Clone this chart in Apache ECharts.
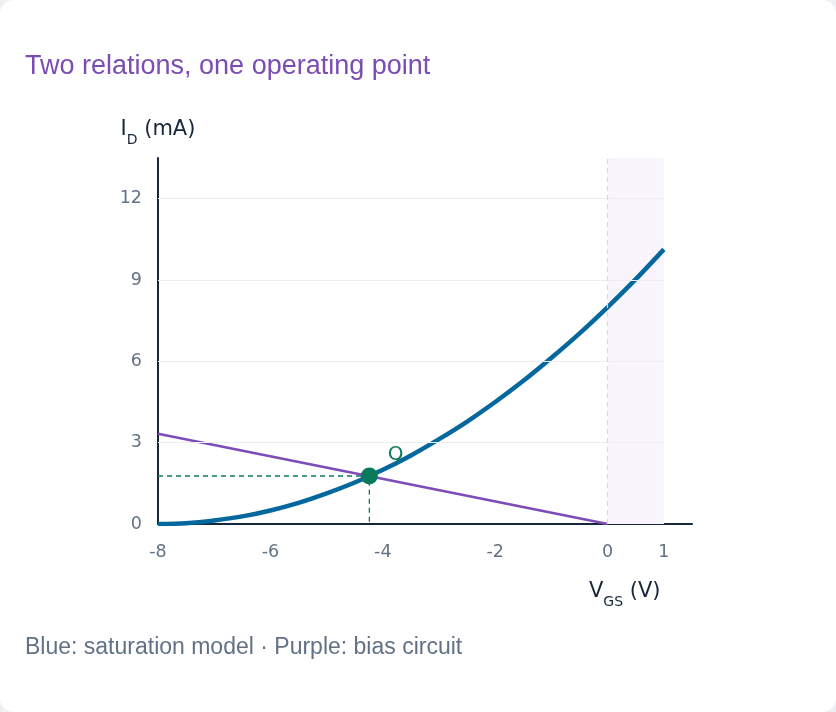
<!DOCTYPE html>
<html>
<head>
<meta charset="utf-8">
<script src="https://cdn.jsdelivr.net/npm/echarts@6/dist/echarts.min.js"></script>
<style>
  html, body { margin: 0; padding: 0; background: #eef0f3; }
  #card {
    width: 836px; height: 712px; background: #fff;
    border-radius: 14px; overflow: hidden;
  }
  #chart { width: 836px; height: 712px; }
</style>
</head>
<body>
<div id="card"><div id="chart"></div></div>
<script>
// values
const vgs = [-8, -7.5, -7, -6.5, -6, -5.5, -5, -4.5, -4, -3.5, -3, -2.5, -2, -1.5, -1, -0.5, 0, 0.5, 1];
const idSat = [0, 0.03, 0.13, 0.28, 0.5, 0.78, 1.13, 1.53, 2, 2.53, 3.13, 3.78, 4.5, 5.28, 6.13, 7.03, 8, 9.03, 10.13];
const biasVgs = [-8, 0];
const biasId = [3.33, 0];
const qPoint = [-4.24, 1.77];
const xTickLabels = [-8, -6, -4, -2, 0, 1];
const yTickLabels = [0, 3, 6, 9, 12];

const dom = document.getElementById("chart");
const myChart = echarts.init(dom, null, { renderer: "canvas" });

const blue = "#04689e";
const purple = "#7d4cb6";
const green = "#0b7a5c";
const textGray = "#627185";
const axisDark = "#17263a";

const gridLines = yTickLabels.filter((v) => v > 0).map((v) => [
  { coord: [-8, v], lineStyle: { color: "#ebedf0", width: 1, type: "solid" } },
  { coord: [1, v] },
]);

const option = {
  animation: false,
  textStyle: { fontFamily: "DejaVu Sans" },
  grid: { left: 158, right: 144, top: 158, bottom: 188 },
  title: {
    text: "Two relations, one operating point",
    left: 25,
    top: 53,
    padding: 0,
    textStyle: {
      color: "#7a4cb4",
      fontFamily: "Liberation Sans",
      fontSize: 27,
      fontWeight: "normal",
    },
  },
  graphic: [
    {
      type: "text",
      left: 25,
      top: 636,
      style: {
        text: "Blue: saturation model \u00b7 Purple: bias circuit",
        fill: textGray,
        font: "23px 'Liberation Sans'",
      },
    },
    {
      type: "text",
      left: 589,
      top: 581,
      style: {
        text: "{n|V}{s|GS}{n| (V)}",
        rich: {
          n: { fontSize: 21, fill: axisDark, fontFamily: "DejaVu Sans", verticalAlign: "bottom" },
          s: { fontSize: 14, fill: axisDark, fontFamily: "DejaVu Sans", padding: [0, 0, -7, 0], verticalAlign: "bottom" },
        },
      },
    },
  ],
  xAxis: {
    type: "value",
    min: -8,
    max: 1.5,
    interval: 1,
    axisLine: { show: true, onZero: false, lineStyle: { color: axisDark, width: 2 } },
    axisTick: { show: false },
    splitLine: { show: false },
    axisLabel: {
      color: textGray,
      fontSize: 17.5,
      margin: 19,
      showMaxLabel: false,
      formatter: (v) => (xTickLabels.includes(v) ? String(v) : ""),
    },
  },
  yAxis: {
    type: "value",
    min: 0,
    max: 13.5,
    interval: 3,
    name: "{n|I}{s|D}{n| (mA)}",
    nameLocation: "end",
    nameGap: 18,
    nameTextStyle: {
      rich: {
        n: { fontSize: 21, color: axisDark, fontFamily: "DejaVu Sans", verticalAlign: "bottom" },
        s: { fontSize: 14, color: axisDark, fontFamily: "DejaVu Sans", padding: [0, 0, -7, 0], verticalAlign: "bottom" },
      },
    },
    axisLine: { show: true, onZero: false, lineStyle: { color: axisDark, width: 2 } },
    axisTick: { show: false },
    splitLine: { show: false },
    axisLabel: {
      color: textGray,
      fontSize: 17.5,
      margin: 16,
      showMaxLabel: false,
      formatter: (v) => (yTickLabels.includes(v) ? String(v) : ""),
    },
  },
  series: [
    {
      // shaded region, zero line, grid lines
      type: "line",
      data: [],
      silent: true,
      markArea: {
        silent: true,
        itemStyle: { color: "#f8f6fc" },
        data: [[{ coord: [0, 0] }, { coord: [1, 13.5] }]],
      },
      markLine: {
        silent: true,
        symbol: "none",
        label: { show: false },
        data: [
          ...gridLines,
          [
            { coord: [0, 0], lineStyle: { color: "#ddd3ea", width: 1.2, type: [5, 4] } },
            { coord: [0, 13.5] },
          ],
        ],
      },
    },
    {
      name: "bias circuit",
      type: "line",
      data: biasVgs.map((v, i) => [v, biasId[i]]),
      showSymbol: false,
      lineStyle: { color: purple, width: 2.6 },
      z: 3,
    },
    {
      name: "saturation model",
      type: "line",
      data: vgs.map((v, i) => [v, idSat[i]]),
      showSymbol: false,
      smooth: 0.3,
      lineStyle: { color: blue, width: 4.5 },
      z: 4,
    },
    {
      // guide lines to the operating point
      type: "line",
      data: [[-8, qPoint[1]], qPoint, [qPoint[0], 0]],
      showSymbol: false,
      lineStyle: { color: green, width: 1.3, type: [5, 4] },
      z: 2,
    },
    {
      name: "Q",
      type: "scatter",
      data: [qPoint],
      symbolSize: 17,
      itemStyle: { color: green, opacity: 1 },
      label: {
        show: true,
        formatter: "Q",
        position: "right",
        offset: [5, -21],
        color: green,
        fontSize: 20,
      },
      z: 5,
    },
  ],
};

myChart.setOption(option);

window.addEventListener("resize", function () {
  myChart.resize();
});
</script>
</body>
</html>
